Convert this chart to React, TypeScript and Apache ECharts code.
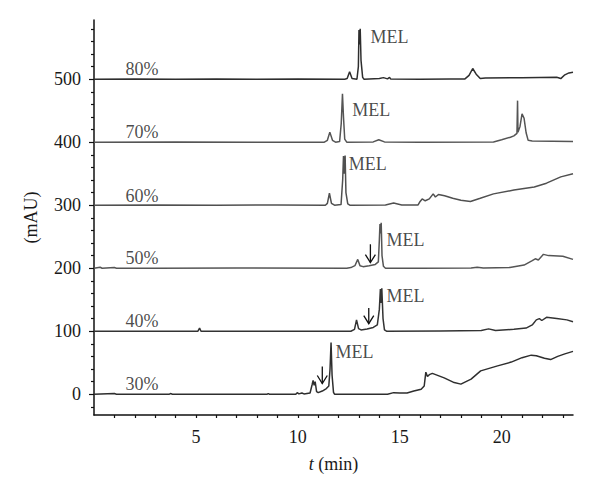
import React, { useEffect, useRef } from "react";
import * as echarts from "echarts";

const FONT = "'Liberation Serif', 'DejaVu Serif', serif";

// chromatogram traces: [time (min), signal above the trace's own baseline (mAU)]
const trace80: number[][] = [
  [0, 0], [2, 0.5], [4, 0], [6, 0.5], [8, 0], [10, 0.5], [12.3, 0],
  [12.42, 1], [12.54, 12], [12.66, 1], [12.9, 0], [12.97, 20], [13.0, 78], [13.03, 55], [13.06, 80], [13.1, 30], [13.18, 3], [13.25, 0],
  [14.0, 1], [14.2, 2.5], [14.4, 0.5], [14.5, 3], [14.55, 0.5], [16, 0], [17.5, 0.5], [18.2, 0.5], [18.4, 6], [18.58, 17], [18.75, 8],
  [18.95, 1], [19.2, 2], [21, 2.5], [22.7, 3], [22.9, 1], [23.1, 7], [23.3, 10], [23.5, 11],
];
const trace70: number[][] = [
  [0, 0], [4, 0.5], [8, 0], [11.3, 0], [11.45, 3], [11.57, 16], [11.7, 3], [11.85, 0], [12.05, 1], [12.13, 30], [12.19, 77], [12.24, 40],
  [12.3, 5], [12.4, 0], [13.7, 0.5], [13.97, 4], [14.25, 0.5], [16, 0], [19.6, 0.5], [20.0, 4], [20.43, 8], [20.6, 10], [20.75, 14],
  [20.78, 66], [20.8, 16], [20.9, 25], [21.0, 45], [21.1, 38], [21.2, 15], [21.3, 3], [21.5, 2], [23.5, 1],
];
const trace60: number[][] = [
  [0, 0], [3, 0.5], [6, 0], [9, 0.5], [11.35, 0], [11.45, 3], [11.55, 19], [11.65, 3], [11.8, 0], [12.12, 1], [12.2, 40], [12.24, 78],
  [12.28, 50], [12.32, 79], [12.36, 20], [12.45, 2], [12.55, 0], [14.3, 0.5], [14.7, 3.5], [15.1, 0.5], [15.9, 0.5], [16.0, 6], [16.1, 10],
  [16.25, 7], [16.45, 10], [16.64, 18], [16.75, 13], [16.9, 17], [17.2, 15], [17.6, 11], [18.0, 8], [18.47, 6], [18.95, 11], [19.6, 18],
  [20.6, 24], [21.6, 29], [22.2, 35], [22.9, 45], [23.5, 50],
];
const trace50: number[][] = [
  [0, 0], [0.3, 1.5], [0.4, 0], [1.0, 1], [1.1, 0], [3, 0], [7, 0.5], [12.4, 0], [12.6, 1], [12.8, 4], [12.94, 14], [13.05, 4], [13.2, 2.5],
  [13.5, 4], [13.8, 6], [13.95, 10], [14.0, 45], [14.03, 70], [14.06, 55], [14.09, 72], [14.13, 20], [14.2, 3], [14.3, 0], [16, 0],
  [18.5, 0.5], [18.8, 1.5], [19.1, 0.5], [20.4, 1], [21.1, 5], [21.5, 12], [21.65, 15], [21.8, 13], [22.05, 22], [22.3, 20], [23.0, 19], [23.5, 14],
];
const trace40: number[][] = [
  [0, 0], [5.1, 0], [5.18, 5], [5.25, 0], [12.6, 0], [12.78, 3], [12.88, 18], [12.98, 4], [13.1, 2], [13.4, 3.5], [13.7, 6], [13.9, 10],
  [14.0, 35], [14.05, 67], [14.08, 45], [14.12, 68], [14.18, 20], [14.25, 2], [14.35, 0], [17, 0.5], [19.0, 1], [19.36, 3.7], [19.7, 1],
  [20.6, 3], [21.2, 5], [21.5, 10], [21.7, 18], [21.85, 20], [21.97, 17], [22.2, 22], [22.7, 20], [23.2, 18], [23.5, 15],
];
const trace30: number[][] = [
  [0, 0], [1, 1], [1.1, 0], [3.7, 0], [3.75, 1], [3.85, 0], [8.5, 0], [8.55, 1], [8.6, 0], [9.9, 0], [9.97, 2.5], [10.05, 0.5], [10.2, 2],
  [10.3, 0.5], [10.6, 2], [10.7, 15], [10.75, 22], [10.8, 14], [10.85, 20], [10.92, 4], [11.0, 2.5], [11.2, 5], [11.4, 9], [11.52, 13],
  [11.58, 40], [11.63, 82], [11.68, 30], [11.75, 3], [11.8, 0], [14.4, 0], [14.7, 2.5], [15.0, 2], [15.36, 2], [15.69, 5], [16.05, 8],
  [16.2, 13], [16.28, 35], [16.36, 28], [16.45, 31], [16.6, 33], [17.18, 26], [17.67, 18.5], [18.0, 16], [18.5, 24], [18.97, 37],
  [19.8, 45], [20.47, 51], [21.0, 58], [21.45, 62], [21.7, 61], [22.1, 57], [22.4, 55], [22.75, 60], [23.1, 64], [23.5, 68],
];

const traceNames = ["30%", "40%", "50%", "60%", "70%", "80%"];
const traceOffsets = [0, 100, 200, 300, 400, 500];
const traceColors = ["#2e2e2e", "#333333", "#555555", "#505050", "#555555", "#2e2e2e"];
const traces = [trace30, trace40, trace50, trace60, trace70, trace80];

// percentage labels: [time, value]
const percentLabelPos: number[][] = [[1.55, 16], [1.55, 116], [1.55, 216], [1.55, 314], [1.55, 416], [1.55, 517]];
// MEL labels: [time, value]
const melLabelPos: number[][] = [[11.85, 67], [14.35, 156], [14.35, 244], [12.5, 365], [12.67, 451], [13.56, 567]];
// arrows: [time, top value, bottom value]
const arrows: number[][] = [[11.2, 44, 17], [13.48, 137, 112], [13.56, 238, 209]];

const yMajorTicks = [0, 100, 200, 300, 400, 500];
const yMinorTicks = [-20, 20, 40, 60, 80, 120, 140, 160, 180, 220, 240, 260, 280, 320, 340, 360, 380, 420, 440, 460, 480, 520, 540, 560, 580];
const xLabelTicks = [5, 10, 15, 20];
const xTicks = [1, 2, 3, 4, 5, 6, 7, 8, 9, 10, 11, 12, 13, 14, 15, 16, 17, 18, 19, 20, 21, 22, 23];

export default function App() {
  const ref = useRef<HTMLDivElement>(null);
  useEffect(() => {
    if (!ref.current) return;
    const chart = echarts.init(ref.current, null, { renderer: "svg" });
    const lineSeries = traces.map((tr, i) => ({
      type: "line",
      name: traceNames[i],
      data: tr.map(([t, v]) => [t, v + traceOffsets[i]]),
      showSymbol: false,
      symbol: "none",
      lineStyle: { color: traceColors[i], width: 1.5 },
      xAxisIndex: 0,
      yAxisIndex: 0,
      silent: true,
    }));
    const textStyle = { fontFamily: FONT, fontSize: 18, color: "#1a1a1a" };
    chart.setOption({
      animation: false,
      textStyle: { fontFamily: FONT },
      grid: { left: 94, right: 27, top: 20, bottom: 84 },
      xAxis: {
        type: "value",
        min: 0,
        max: 23.5,
        name: "{i|t} (min)",
        nameLocation: "middle",
        nameGap: 40,
        nameTextStyle: { ...textStyle, rich: { i: { ...textStyle, fontStyle: "italic" } } },
        axisLine: { show: true, onZero: false, lineStyle: { color: "#111", width: 1.5 } },
        axisTick: { show: true, length: 3, customValues: xTicks, lineStyle: { color: "#111", width: 1.2 } },
        axisLabel: { customValues: xLabelTicks, margin: 13, ...textStyle },
        splitLine: { show: false },
      },
      yAxis: [
        {
          type: "value",
          min: -33,
          max: 594,
          position: "left",
          name: "(mAU)",
          nameLocation: "middle",
          nameGap: 54,
          nameTextStyle: { ...textStyle },
          axisLine: { show: true, onZero: false, lineStyle: { color: "#111", width: 1.5 } },
          axisTick: { show: true, length: 5, customValues: yMajorTicks, lineStyle: { color: "#111", width: 1.2 } },
          axisLabel: { customValues: yMajorTicks, margin: 13, ...textStyle },
          splitLine: { show: false },
        },
        {
          type: "value",
          min: -33,
          max: 594,
          position: "left",
          axisLine: { show: false, onZero: false },
          axisTick: { show: true, length: 3, customValues: yMinorTicks, lineStyle: { color: "#111", width: 1.2 } },
          axisLabel: { show: false },
          splitLine: { show: false },
        },
      ],
      series: [
        ...lineSeries,
        {
          type: "scatter",
          name: "percent",
          symbolSize: 0,
          data: percentLabelPos.map((p, i) => ({ name: traceNames[i], value: p })),
          label: { show: true, position: "right", distance: 0, formatter: "{b}", ...textStyle },
          silent: true,
        },
        {
          type: "scatter",
          name: "mel",
          symbolSize: 0,
          data: melLabelPos.map((p) => ({ name: "MEL", value: p })),
          label: { show: true, position: "right", distance: 0, formatter: "{b}", ...textStyle },
          silent: true,
        },
        {
          type: "custom",
          name: "arrows",
          data: arrows,
          silent: true,
          renderItem: (params: any, api: any) => {
            const top = api.coord([api.value(0), api.value(1)]);
            const bot = api.coord([api.value(0), api.value(2)]);
            return {
              type: "group",
              children: [
                { type: "line", shape: { x1: top[0], y1: top[1], x2: bot[0], y2: bot[1] }, style: { stroke: "#111", lineWidth: 1.3 } },
                {
                  type: "polyline",
                  shape: { points: [[bot[0] - 5, bot[1] - 8], [bot[0], bot[1]], [bot[0] + 5, bot[1] - 8]] },
                  style: { stroke: "#111", fill: null, lineWidth: 1.3 },
                },
              ],
            };
          },
        },
      ],
    });
    return () => chart.dispose();
  }, []);
  return <div ref={ref} style={{ width: 600, height: 499, position: "absolute", left: 0, top: 0, background: "#fff" }} />;
}
